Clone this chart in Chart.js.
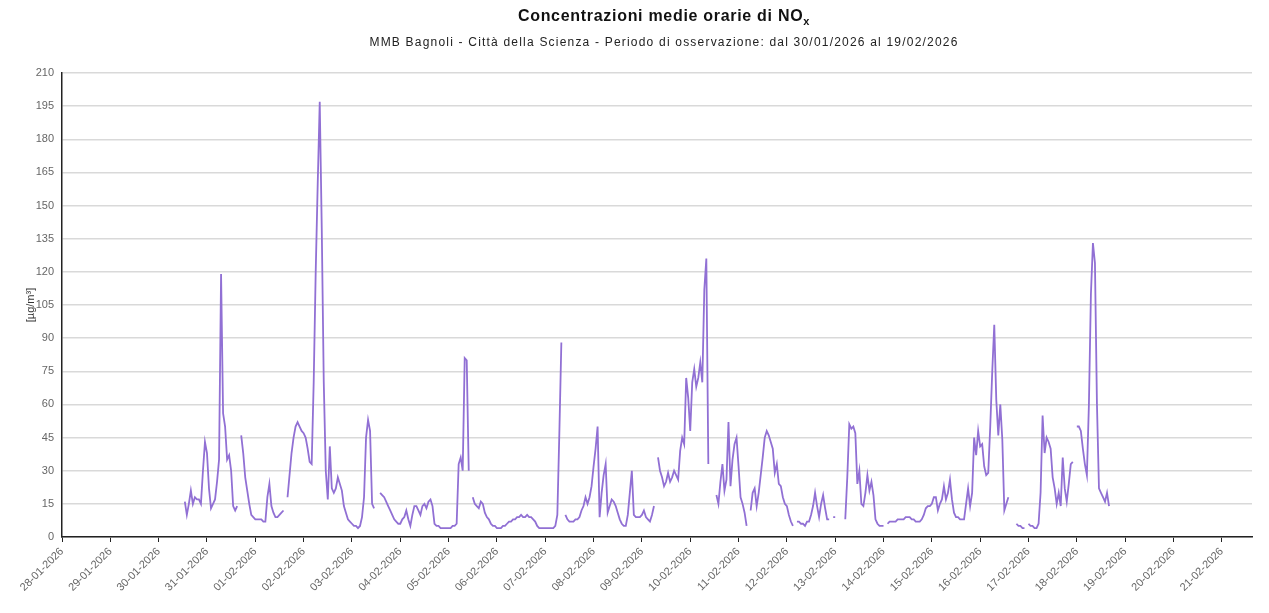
<!DOCTYPE html>
<html lang="it">
<head>
<meta charset="utf-8">
<title>Concentrazioni medie orarie di NOx</title>
<script src="https://cdn.jsdelivr.net/npm/chart.js@4.4.1/dist/chart.umd.min.js"></script>
<style>
    html, body { margin: 0; padding: 0; background: #fff; }
    #box { position: relative; width: 1269px; height: 613px; }
</style>
</head>
<body>
<div id="box"><canvas id="nox_graph"></canvas></div>
<script>
const titolo = 'Concentrazioni medie orarie di NO'
const pedice = 'x'
const sottotitolo = 'MMB Bagnoli - Città della Scienza - Periodo di osservazione: dal 30/01/2026 al 19/02/2026'
const unita = '[µg/m³]'

// x axis runs in hours from 28-01-2026 00:00
const inizio = Date.UTC(2026, 0, 28)
const oraFine = 591
const primaOra = 48   // first row = 30-01-2026 00:00

// hourly means, one row per day (30-01 ... 18-02), null = no data
const nox = [
    null, null, null, null, null, null, null, null, null, null, null, null, null, 16, 10, 15, 21, 15, 18, 17, 17, 15, 30, 43,
    38, 22, 13, 15, 17, 25, 35, 119, 56, 50, 35, 37, 30, 14, 12, 14, null, 46, 38, 27, 21, 15, 10, 9,
    8, 8, 8, 8, 7, 7, 18, 24, 14, 11, 9, 9, 10, 11, 12, null, 18, 28, 38, 45, 50, 52, 50, 48,
    47, 45, 40, 34, 33, 70, 120, 160, 197, 140, 70, 30, 17, 41, 22, 20, 22, 27, 24, 21, 14, 11, 8, 7,
    6, 5, 5, 4, 5, 9, 18, 45, 53, 48, 15, 13, null, null, 20, 19, 18, 16, 14, 12, 10, 8, 7, 6,
    6, 8, 9, 12, 8, 5, 10, 14, 14, 12, 10, 14, 15, 13, 16, 17, 14, 6, 5, 5, 4, 4, 4, 4,
    4, 4, 5, 5, 6, 33, 36, 30, 81, 80, 30, null, 18, 15, 14, 13, 16, 15, 11, 9, 8, 6, 5, 5,
    4, 4, 4, 5, 5, 6, 7, 7, 8, 8, 9, 9, 10, 9, 9, 10, 9, 9, 8, 7, 5, 4, 4, 4,
    4, 4, 4, 4, 4, 5, 10, 47, 88, null, 10, 8, 7, 7, 7, 8, 8, 9, 12, 14, 18, 15, 18, 23,
    32, 40, 50, 9, 20, 28, 33, 11, 14, 17, 16, 14, 11, 8, 6, 5, 5, 10, 20, 30, 10, 9, 9, 9,
    10, 12, 9, 8, 7, 10, 14, null, 36, 30, 27, 23, 25, 29, 25, 27, 30, 28, 26, 39, 45, 42, 72, 63,
    48, 70, 76, 68, 72, 79, 70, 112, 126, 33, null, null, null, 19, 15, 25, 33, 21, 26, 52, 23, 35, 42, 45,
    32, 18, 15, 11, 5, null, 12, 20, 22, 14, 20, 28, 36, 45, 48, 46, 43, 40, 29, 33, 24, 23, 18, 15,
    14, 10, 7, 5, null, 7, 7, 6, 6, 5, 7, 7, 10, 14, 20, 14, 9, 15, 19, 13, 8, 8, null, 9,
    9, null, null, null, null, 8, 27, 51, 49, 50, 47, 24, 30, 15, 14, 20, 28, 21, 25, 19, 8, 6, 5, 5,
    5, null, 6, 7, 7, 7, 7, 8, 8, 8, 8, 9, 9, 9, 8, 8, 7, 7, 7, 8, 10, 13, 14, 14,
    15, 18, 18, 12, 15, 17, 23, 17, 20, 26, 17, 11, 9, 9, 8, 8, 8, 15, 22, 14, 20, 45, 37, 48,
    41, 42, 32, 28, 29, 50, 75, 96, 62, 46, 60, 44, 12, 15, 18, null, null, null, 6, 5, 5, 4, 4, null,
    6, 5, 5, 4, 4, 6, 20, 55, 38, 45, 43, 40, 27, 22, 15, 20, 14, 36, 22, 16, 24, 33, 34, null,
    50, 50, 48, 40, 33, 28, 60, 110, 133, 124, 60, 22, 20, 18, 16, 20, 14
]

const yMax = 210
const yPasso = 15

function etichetta(ora) {
    const d = new Date(inizio + ora * 3600000)
    const gg = String(d.getUTCDate()).padStart(2, '0')
    const mm = String(d.getUTCMonth() + 1).padStart(2, '0')
    return gg + '-' + mm + '-' + d.getUTCFullYear()
}

const font = '"Liberation Sans", Arial, sans-serif'

// title with the subscript x, plus the station line
const intestazione = {
    id: 'intestazione',
    afterDraw(chart) {
        const ctx = chart.ctx
        const cx = 664
        ctx.save()
        ctx.fillStyle = '#111'
        ctx.textBaseline = 'alphabetic'
        ctx.textAlign = 'left'
        ctx.letterSpacing = '0.7px'
        ctx.font = 'bold 16px ' + font
        const w1 = ctx.measureText(titolo).width
        ctx.font = 'bold 11px ' + font
        const w2 = ctx.measureText(pedice).width
        let x = cx - (w1 + w2) / 2
        ctx.font = 'bold 16px ' + font
        ctx.fillText(titolo, x, 21)
        ctx.font = 'bold 11px ' + font
        ctx.fillText(pedice, x + w1, 25)
        ctx.letterSpacing = '1.2px'
        ctx.font = '12px ' + font
        ctx.fillStyle = '#222'
        ctx.textAlign = 'center'
        ctx.fillText(sottotitolo, cx, 46)
        ctx.restore()
    }
}

const punti = nox.map((v, i) => ({ x: primaOra + i, y: v }))

new Chart(document.getElementById('nox_graph'), {
    type: 'line',
    data: {
        datasets: [{
            label: 'NOx',
            data: punti,
            borderColor: '#9170d4',
            backgroundColor: '#9170d4',
            borderWidth: 1.8,
            pointRadius: 0,
            tension: 0,
            spanGaps: false
        }]
    },
    options: {
        responsive: true,
        maintainAspectRatio: false,
        animation: false,
        layout: { padding: { top: 73, right: 17, left: 0, bottom: 0 } },
        plugins: {
            legend: { display: false },
            tooltip: { enabled: false }
        },
        scales: {
            x: {
                type: 'linear',
                min: 0,
                max: oraFine,
                afterFit(scale) { scale.height = 76 },
                border: { color: '#222', width: 1.5 },
                grid: { drawOnChartArea: false, tickLength: 5, color: '#222' },
                ticks: {
                    stepSize: 24,
                    includeBounds: false,
                    autoSkip: false,
                    maxRotation: 45,
                    minRotation: 45,
                    color: '#666',
                    font: { family: font, size: 11 },
                    callback: (v) => etichetta(v)
                }
            },
            y: {
                min: 0,
                max: yMax,
                afterFit(scale) { scale.width = 62 },
                border: { color: '#222', width: 1.5 },
                grid: { color: '#d9d9d9', lineWidth: 1.5, drawTicks: false },
                title: {
                    display: true,
                    text: unita,
                    color: '#333',
                    font: { family: font, size: 11 },
                    padding: { top: 24, bottom: 0 }
                },
                ticks: {
                    stepSize: yPasso,
                    padding: 8,
                    color: '#666',
                    font: { family: font, size: 11 }
                }
            }
        }
    },
    plugins: [intestazione]
})
</script>
</body>
</html>
